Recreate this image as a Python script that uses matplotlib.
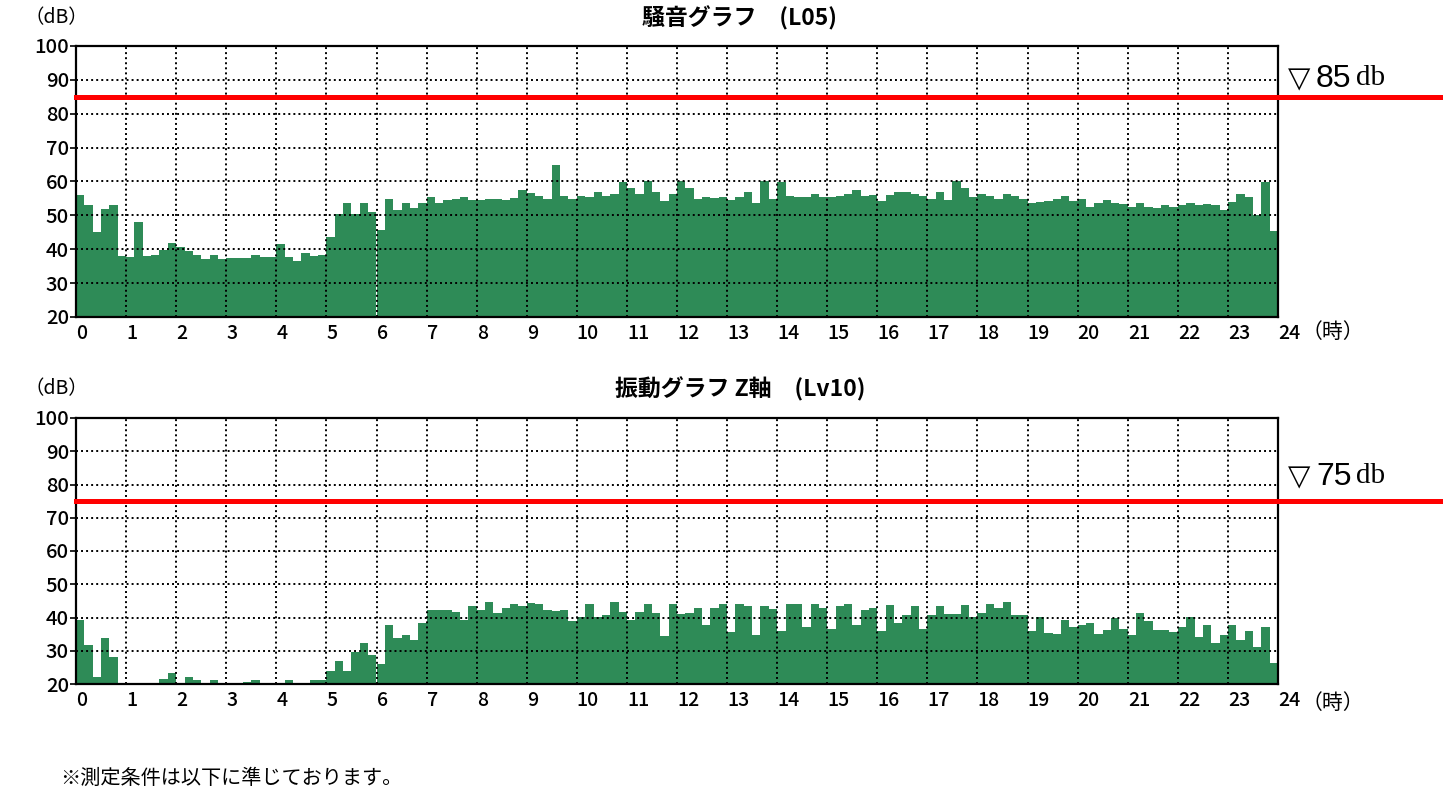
import numpy as np
import matplotlib
matplotlib.use("Agg")
import matplotlib.pyplot as plt

# ---- data (10-minute intervals, 144 per day) ----
noise_l05 = [
    56, 53, 45, 52, 53, 38,
    37.6, 48, 38, 38.4, 39.8, 41.8,
    40.6, 39.6, 38.4, 37, 38.4, 37,
    37.3, 37.3, 37.3, 38.4, 37.6, 37.6,
    41.6, 37.6, 36.4, 38.8, 38, 38.4,
    43.6, 50.4, 53.6, 50.4, 53.8, 51,
    45.6, 54.8, 51.6, 53.6, 52.2, 53.8,
    55.5, 53.6, 54.4, 54.8, 55.3, 54.6,
    54.4, 54.8, 54.8, 54.4, 55, 57.6,
    56.6, 55.8, 54.8, 65, 55.8, 54.8,
    55.8, 55.4, 57, 55.8, 56.4, 59.8,
    58, 56.3, 60, 57, 54.2, 56.3,
    60, 58, 54.8, 55.4, 55, 55.4,
    54.4, 55.4, 57, 53.6, 60, 54.8,
    59.8, 55.8, 55.4, 55.4, 56.4, 55.4,
    55.4, 55.8, 56.4, 57.4, 55.6, 56,
    54.2, 56, 57, 57, 56.4, 55.6,
    54.8, 56.8, 54.4, 60, 58, 55.4,
    56.4, 55.8, 54.8, 56.4, 55.6, 54.8,
    53.8, 54, 54.2, 54.8, 55.8, 54.2,
    54.8, 52.6, 53.8, 54.4, 53.8, 53.4,
    52.6, 53.8, 52.6, 52.2, 53, 52.6,
    53, 53.8, 53, 53.4, 53, 51.6,
    54, 56.4, 55.4, 50, 59.8, 45.5,
]

vib_lv10 = [
    39.2, 31.6, 22.2, 33.7, 28, 20,
    20, 20, 20, 20, 21.6, 23.2,
    20, 22.2, 21.2, 20, 21.2, 20,
    20, 20, 20.6, 21.2, 20, 20,
    20, 21.2, 20, 20, 21.2, 21.2,
    23.8, 27, 23.8, 29.6, 32.2, 28.6,
    26, 37.6, 33.8, 34.8, 33.2, 38.2,
    42.4, 42.4, 42.2, 41.7, 39.2, 43.4,
    42.4, 44.8, 41.4, 43, 44.2, 43.4,
    44.4, 44, 42.4, 42, 42.4, 38.8,
    40.2, 44.2, 40.2, 40.8, 44.8, 41.8,
    39.2, 41.8, 44.2, 41.4, 34.4, 44.2,
    41, 41.4, 42.8, 37.7, 42.8, 44,
    35.6, 44.2, 43.4, 34.8, 43.4, 42.6,
    36, 44, 44.2, 37.2, 44.2, 42.8,
    36.6, 43.4, 44.2, 37.7, 42.4, 42.8,
    36, 43.8, 38.4, 40.8, 43.4, 36.6,
    40.8, 43.4, 41, 41, 43.8, 40.2,
    41.4, 44, 43, 44.8, 40.8, 40.8,
    35.8, 40.2, 35.4, 35, 39.2, 37.2,
    37.8, 38.2, 35, 36.2, 40, 36.6,
    34.8, 41.4, 38.8, 36.2, 36.2, 35.6,
    37, 40.2, 34.2, 37.6, 32.2, 34.7,
    37.6, 33.2, 36, 31.2, 37, 26.4,
]

hour_ticks = list(range(25))
db_ticks = [20, 30, 40, 50, 60, 70, 80, 90, 100]
titles = ["騒音グラフ　(L05)", "振動グラフ Z軸　(Lv10)"]
limits = [85, 75]
limit_nums = ["85", "75"]

BAR_COLOR = "#2e8b57"
JP = ["Noto Sans CJK JP", "DejaVu Sans"]
plt.rcParams["font.family"] = JP

W, H = 1455, 790
fig = plt.figure(figsize=(W / 100, H / 100), dpi=100)
fig.patch.set_facecolor("white")


def fx(px):
    return px / W


def fy(py):
    return 1 - py / H


panels = [
    dict(top=46, bottom=317, data=noise_l05, title_y=18, lab_y=79),
    dict(top=418, bottom=684, data=vib_lv10, title_y=389, lab_y=477),
]

ax_left, ax_right = 76, 1278
for i, p in enumerate(panels):
    ax = fig.add_axes([fx(ax_left), fy(p["bottom"]), fx(ax_right - ax_left),
                       (p["bottom"] - p["top"]) / H])
    vals = np.array(p["data"], dtype=float)
    x = np.arange(len(vals)) / 6.0
    ax.bar(x, vals, width=1 / 6.0, align="edge", color=BAR_COLOR,
           edgecolor="none", zorder=2)
    ax.set_xlim(0, 24)
    ax.set_ylim(20, 100)
    ax.set_xticks(hour_ticks)
    ax.set_yticks(db_ticks)
    ax.set_xticklabels([str(h) for h in hour_ticks], ha="left", fontsize=14,
                       fontweight="medium")
    ax.set_yticklabels([str(d) for d in db_ticks], fontsize=14.5,
                       fontweight="medium")
    ax.tick_params(axis="x", length=0, pad=5)
    ax.tick_params(axis="y", length=4, width=1.2, pad=1)
    ax.grid(True, color="black", linestyle=(0, (1, 1.6)), linewidth=1.4,
            zorder=3)
    ax.set_axisbelow(False)
    for s in ax.spines.values():
        s.set_linewidth(1.6)
        s.set_color("black")
        s.set_zorder(4)
    ax.axhline(limits[i], xmin=0, xmax=(1440 - ax_left) / (ax_right - ax_left),
               color="#ff0000", linewidth=3.6, clip_on=False, zorder=5)

    # title and units
    fig.text(fx(740), fy(p["title_y"]), titles[i], ha="center", va="center",
             fontsize=16.5, fontweight="bold")
    fig.text(fx(24), fy(p["title_y"]), "（dB）", ha="left", va="center",
             fontsize=14)
    fig.text(fx(1302), fy(p["title_y"] + 314), "（時）", ha="left",
             va="center", fontsize=15)

    # limit label
    fig.text(fx(1288), fy(p["lab_y"]), "▽", ha="left", va="center",
             fontsize=21, family=["DejaVu Sans"])
    fig.text(fx(1316), fy(p["lab_y"]), limit_nums[i], ha="left", va="center",
             fontsize=23, family=["Liberation Sans", "DejaVu Sans"])
    fig.text(fx(1356), fy(p["lab_y"] - 1), "db", ha="left", va="center",
             fontsize=21, family=["Liberation Serif", "DejaVu Serif"])

fig.text(fx(60), fy(789), "※測定条件は以下に準じております。", ha="left",
         va="bottom", fontsize=14.5)

fig.savefig("out.png", dpi=100, facecolor="white")
